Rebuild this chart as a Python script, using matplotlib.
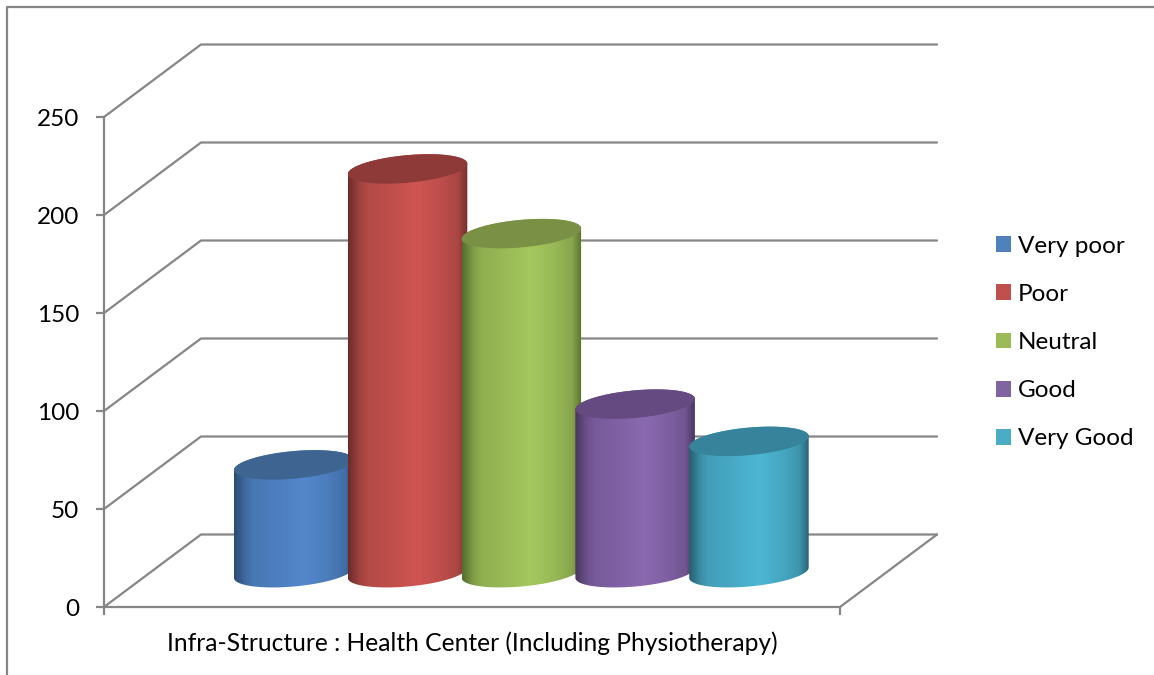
import numpy as np
import matplotlib
matplotlib.use('Agg')
import matplotlib.pyplot as plt
from matplotlib.colors import LinearSegmentedColormap, to_rgb
from matplotlib.lines import Line2D
from matplotlib.patches import Patch, Polygon

plt.rcParams['font.family'] = ['Lato', 'DejaVu Sans']

categories = ['Very poor', 'Poor', 'Neutral', 'Good', 'Very Good']
values = [55, 206, 173, 86, 67]
y_ticks = [0, 50, 100, 150, 200, 250]
x_title = 'Infra-Structure : Health Center (Including Physiotherapy)'

# colours: legend, highlight on the side, darkest edge, top of the cylinder
legend_cols = ['#4f81bd', '#c0504d', '#9bbb59', '#8064a2', '#4bacc6']
light_cols = ['#5388cc', '#cf5552', '#a5c85e', '#8a69b0', '#4db6d4']
dark_cols = ['#2b4a70', '#6b2c2a', '#566d2e', '#47355e', '#27606f']
top_cols = ['#3e6491', '#8e3a38', '#7a9044', '#644a80', '#37839c']

W, H = 1154, 675
AX_L, AX_R, AX_T, AX_B = 104, 840, 117, 607
GRAY = '#868686'
FS = 17.5

# chart is built on the front plane, x axis counted in pixels
Y_SCALE = (AX_B - AX_T) / 250
DEPTH_X = 97
DEPTH_Y = 72.5 / Y_SCALE
BAR_LEFT = 130
BAR_STEP = 113.8
BAR_W = 119.5
BAR_BASE = 17.5
TILT = 5.2 / Y_SCALE
MINOR = 13.8 / Y_SCALE

fig = plt.figure(figsize=(W / 100, H / 100), dpi=100)
ax = fig.add_axes([AX_L / W, 1 - AX_B / H, (AX_R - AX_L) / W, (AX_B - AX_T) / H])
ax.set_xlim(0, AX_R - AX_L)
ax.set_ylim(0, 250)
ax.set_autoscale_on(False)

for s in ['top', 'right']:
    ax.spines[s].set_visible(False)
for s in ['left', 'bottom']:
    ax.spines[s].set_color(GRAY)
    ax.spines[s].set_linewidth(1.6)

ax.set_yticks(y_ticks)
ax.set_xticks([0, AX_R - AX_L])
ax.set_xticklabels(['', ''])
ax.tick_params(axis='both', color=GRAY, width=1.6, length=6)
ax.tick_params(axis='y', labelsize=FS, pad=12, labelcolor='black')
ax.set_xlabel(x_title, fontsize=17.7, labelpad=8)

# walls and floor
wall = dict(color=GRAY, lw=1.6, clip_on=False, zorder=1, solid_capstyle='round')
for t in y_ticks:
    ax.plot([0, DEPTH_X, AX_R - AX_L + DEPTH_X], [t, t + DEPTH_Y, t + DEPTH_Y], **wall)
ax.plot([AX_R - AX_L, AX_R - AX_L + DEPTH_X], [0, DEPTH_Y], **wall)

shade = np.array([0.0, 0.10, 0.16, 0.35, 0.58, 0.78, 0.92, 1.0])
mix = np.array([0.0, 0.55, 0.72, 0.84, 1.0, 0.82, 0.62, 0.05])
tt = np.linspace(0, 2 * np.pi, 181)
low = np.linspace(np.pi, 2 * np.pi, 91)
high = np.linspace(0, np.pi, 91)


def ellipse(cx, cy, t):
    # tilted disc, rises to the right
    return cx + BAR_W / 2 * np.cos(t), cy + TILT * np.cos(t) + MINOR * np.sin(t)


for i, val in enumerate(values):
    cx = BAR_LEFT + BAR_STEP * i + BAR_W / 2
    y0 = BAR_BASE
    y1 = BAR_BASE + val
    z = 3 + i

    bx, by = ellipse(cx, y0, low)
    ux, uy = ellipse(cx, y1, high)
    body = Polygon(np.r_[np.c_[bx, by], np.c_[ux, uy]], closed=True, fc='none', ec='none',
                   transform=ax.transData, zorder=z)
    ax.add_patch(body)

    stops = [(float(p), tuple((1 - m) * np.array(to_rgb(dark_cols[i])) + m * np.array(to_rgb(light_cols[i]))))
             for p, m in zip(shade, mix)]
    cmap = LinearSegmentedColormap.from_list('side' + str(i), stops)
    im = ax.imshow(np.linspace(0, 1, 256).reshape(1, -1), cmap=cmap, aspect='auto',
                   extent=[cx - BAR_W / 2, cx + BAR_W / 2, y0 - 20, y1 + 20],
                   interpolation='bilinear', zorder=z)
    im.set_clip_path(body)

    tx, ty = ellipse(cx, y1, tt)
    ax.add_patch(Polygon(np.c_[tx, ty], closed=True, fc=top_cols[i], ec='none', zorder=z, clip_on=False))

ax.set_xlim(0, AX_R - AX_L)
ax.set_ylim(0, 250)

handles = [Patch(fc=c, ec='none') for c in legend_cols]
fig.legend(handles, categories, loc='center left', bbox_to_anchor=(996 / W, 1 - 342.5 / H),
           frameon=False, fontsize=FS, handlelength=0.62, handleheight=0.62,
           handletextpad=0.29, labelspacing=1.12, borderpad=0, borderaxespad=0)

# outer chart frame
fig.add_artist(Line2D([7 / W, 7 / W, 1], [0, 1 - 7 / H, 1 - 7 / H], color=GRAY, lw=1.6))

fig.savefig('out.png', dpi=100)
